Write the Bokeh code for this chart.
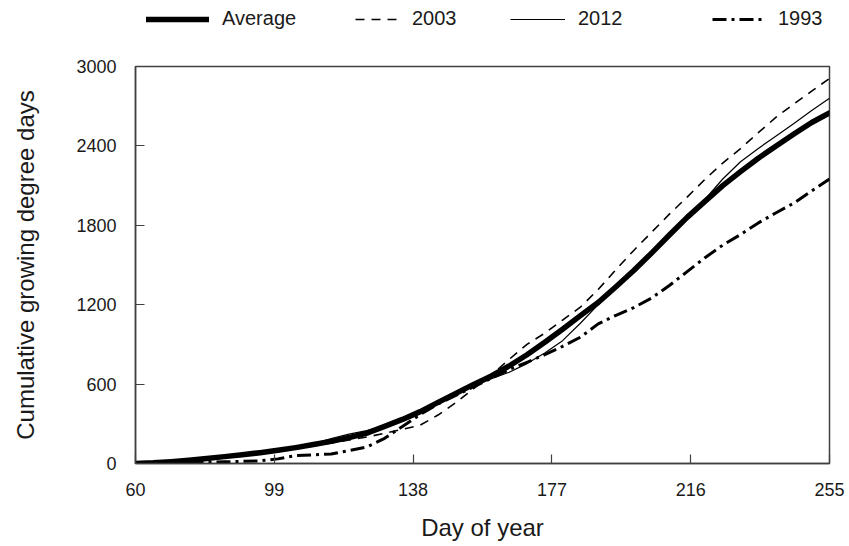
from bokeh.plotting import figure
from bokeh.layouts import column
from bokeh.models import Range1d, FixedTicker, Legend, LegendItem
from bokeh.embed import file_html
from bokeh.resources import INLINE

# ---- data ----
DAYS = [60, 65, 70, 75, 80, 85, 90, 95, 100, 105, 110, 115, 120, 125, 130, 135,
        140, 145, 150, 155, 160, 165, 170, 175, 180, 185, 190, 195, 200, 205,
        210, 215, 220, 225, 230, 235, 240, 245, 250, 255]

AVERAGE = [0, 5, 14, 25, 38, 52, 66, 82, 100, 120, 143, 167, 196, 230, 280, 333,
           392, 462, 530, 598, 662, 737, 822, 916, 1015, 1117, 1217, 1336, 1458, 1590,
           1727, 1860, 1981, 2100, 2205, 2307, 2400, 2490, 2577, 2650]

Y2003 = [0, 4, 12, 22, 33, 45, 58, 72, 90, 110, 132, 155, 178, 200, 228, 258,
         290, 366, 460, 565, 670, 787, 900, 985, 1084, 1181, 1315, 1465, 1610, 1747,
         1884, 2013, 2147, 2270, 2380, 2500, 2617, 2717, 2814, 2910]

Y2012 = [0, 6, 16, 30, 42, 55, 68, 83, 100, 122, 150, 188, 222, 248, 282, 333,
         392, 458, 523, 585, 640, 690, 755, 835, 928, 1060, 1200, 1330, 1455, 1588,
         1725, 1860, 1995, 2150, 2280, 2381, 2475, 2570, 2668, 2760]

Y1993 = [0, 2, 5, 8, 10, 13, 16, 20, 35, 60, 65, 72, 98, 125, 190, 280,
         370, 450, 515, 580, 645, 710, 765, 822, 885, 954, 1055, 1120, 1178, 1250,
         1345, 1450, 1555, 1650, 1730, 1818, 1895, 1968, 2060, 2150]

X_TICKS = [60, 99, 138, 177, 216, 255]
Y_TICKS = [0, 600, 1200, 1800, 2400, 3000]
SERIES_NAMES = ["Average", "2003", "2012", "1993"]
SERIES_VALUES = {"Average": AVERAGE, "2003": Y2003, "2012": Y2012, "1993": Y1993}

FONT = "Liberation Sans"
INK = "#1a1a1a"
AXIS = "#404040"
W = 845

STYLES = {
    "Average": dict(line_color="black", line_width=5.5, line_join="round", line_cap="round"),
    "2003": dict(line_color="black", line_width=1.6, line_dash="9 7", line_join="round"),
    "2012": dict(line_color="black", line_width=1.2, line_join="round"),
    "1993": dict(line_color="black", line_width=3, line_dash="14 5 3 5", line_join="round"),
}

# ---------------- main chart ----------------
p = figure(width=W, height=496,
           x_range=Range1d(60, 255), y_range=Range1d(0, 3000),
           output_backend="svg", toolbar_location=None,
           min_border_left=135, min_border_right=W - 829,
           min_border_top=16, min_border_bottom=83)

for name in ["1993", "2003", "2012", "Average"]:
    p.line(DAYS, SERIES_VALUES[name], **STYLES[name])

for ax in (p.xaxis, p.yaxis):
    ax.major_tick_in = 9
    ax.major_tick_out = 0
    ax.minor_tick_in = 0
    ax.minor_tick_out = 0
    ax.axis_line_color = AXIS
    ax.axis_line_width = 1.5
    ax.major_tick_line_color = AXIS
    ax.major_tick_line_width = 1.2
    ax.major_label_text_font = FONT
    ax.major_label_text_font_size = "18px"
    ax.major_label_text_color = INK
    ax.axis_label_text_font = FONT
    ax.axis_label_text_font_size = "24px"
    ax.axis_label_text_font_style = "normal"
    ax.axis_label_text_color = INK

p.xaxis.ticker = FixedTicker(ticks=X_TICKS)
p.yaxis.ticker = FixedTicker(ticks=Y_TICKS)
p.xaxis.axis_label = "Day of year"
p.yaxis.axis_label = "Cumulative growing degree days"
p.xaxis.major_label_standoff = 19
p.xaxis.axis_label_standoff = 15
p.yaxis.major_label_standoff = 19
p.yaxis.axis_label_standoff = 34

p.xgrid.visible = False
p.ygrid.visible = False
p.outline_line_color = AXIS
p.outline_line_width = 1.5
p.outline_line_alpha = 1.0
p.background_fill_color = "white"
p.border_fill_color = "white"

# ---------------- legend strip above the chart ----------------
# (its frame is aligned with the main frame by the column layout; the series
#  are drawn here outside the visible y range so only the legend shows)
leg = figure(width=W, height=50, x_range=Range1d(60, 255), y_range=Range1d(-20, -10),
             output_backend="svg", toolbar_location=None,
             min_border_left=135, min_border_right=W - 829,
             min_border_top=0, min_border_bottom=0)
leg.xaxis.visible = False
leg.yaxis.visible = False
leg.xgrid.visible = False
leg.ygrid.visible = False
leg.outline_line_color = None
leg.background_fill_color = "white"
leg.border_fill_color = "white"

legend_pos = {"Average": (11, 63), "2003": (220, 44), "2012": (375, 55), "1993": (577, 53)}
for name in SERIES_NAMES:
    r = leg.line(DAYS, SERIES_VALUES[name], **STYLES[name])
    lx, gw = legend_pos[name]
    lg = Legend(items=[LegendItem(label=name, renderers=[r])],
                location=(lx, 20),
                orientation="horizontal",
                glyph_width=gw, glyph_height=20,
                label_standoff=13, label_height=20,
                label_text_font=FONT, label_text_font_size="20px",
                label_text_color=INK,
                padding=0, margin=0, spacing=0,
                border_line_alpha=0, background_fill_alpha=0)
    leg.add_layout(lg, "center")

layout = column(leg, p, spacing=0)
open("out.html", "w").write(file_html(layout, INLINE))
